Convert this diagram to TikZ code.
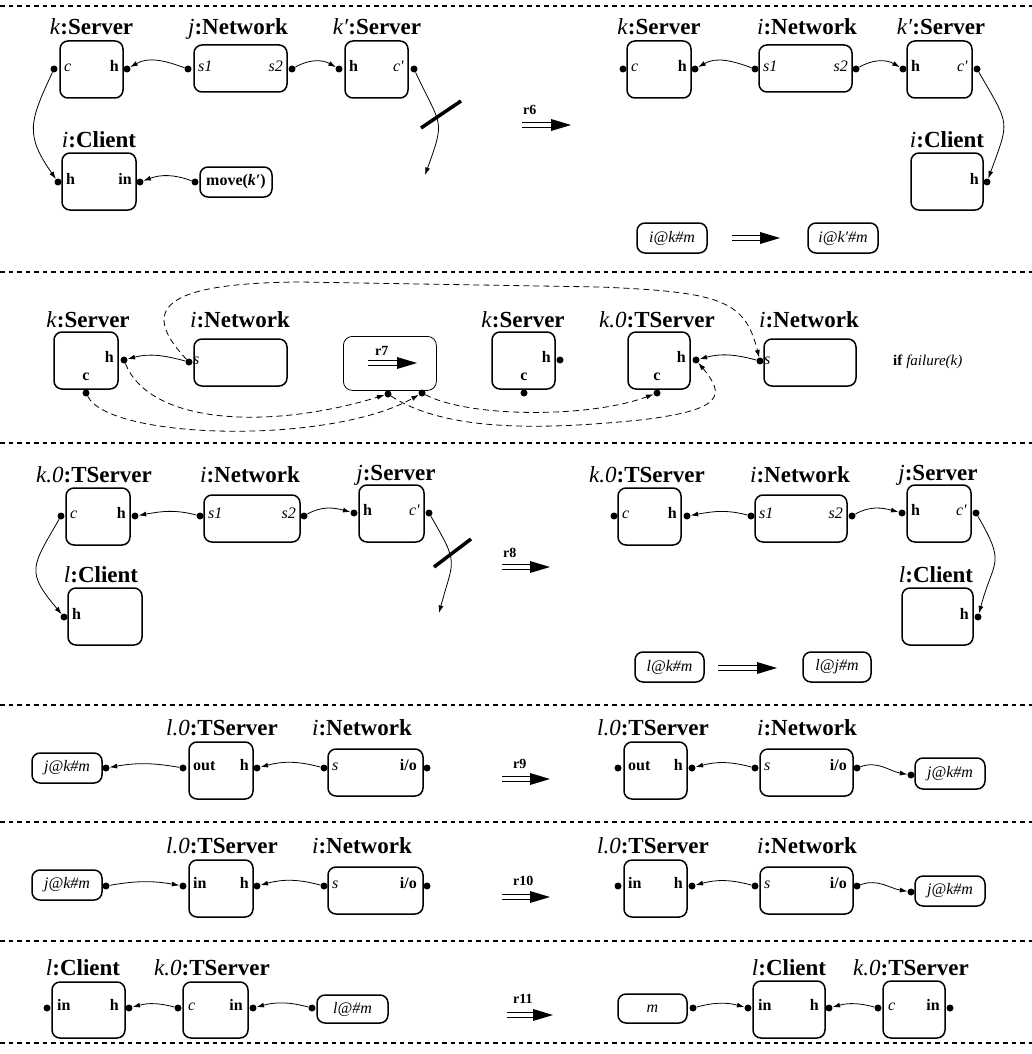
\documentclass[tikz,border=0pt]{standalone}
\usepackage{fontspec}
\setmainfont{Liberation Serif}
\usetikzlibrary{arrows.meta}
\tikzset{
 cbox/.style={draw, line width=1.5pt, rounded corners=8pt, inner sep=0pt, outer sep=0pt, font=\fontsize{16}{18}\selectfont},
 pdot/.style={circle, fill=black, draw=none, inner sep=0pt, minimum size=7pt},
 plab/.style={inner sep=0pt, font=\fontsize{16}{18}\selectfont},
 ttl/.style={inner sep=0pt, anchor=base, font=\fontsize{23}{25}\selectfont},
 conn/.style={line width=0.8pt, -{Latex[length=7.5pt,width=5pt]}},
 dconn/.style={conn, dash pattern=on 6pt off 4pt},
 sepline/.style={line width=1.2pt, dash pattern=on 4.5pt off 4pt},
 slash/.style={line width=3.5pt},
 rlab/.style={inner sep=0pt, anchor=base west, font=\bfseries\fontsize{14}{16}\selectfont},
}
\newcommand\bx[6]{\node[cbox, anchor=north west, minimum width={(#4-#2)*1pt}, minimum height={(#5-#3)*1pt}] (#1) at (#2,#3) {#6};}
\newcommand\rarr[3]{%
 \draw[line width=1.2pt] (#1,#2-2.4) -- (#1+#3-17,#2-2.4) (#1,#2+2.4) -- (#1+#3-17,#2+2.4);
 \fill (#1+#3-20,#2-6) -- (#1+#3,#2) -- (#1+#3-20,#2+6) -- cycle;}
\begin{document}
\begin{tikzpicture}[x=1pt,y=-1pt]
\fill[white] (0,0) rectangle (1032,1054);
\useasboundingbox (0,0) rectangle (1032,1054);
% separators
\foreach \yy in {6,272,443,705,822,941,1043} \draw[sepline] (0,\yy) -- (1032,\yy);

% ================= ROW 1 LEFT
\bx{a1}{60}{41}{123}{98}{}
\bx{a2}{194}{45}{287}{92}{}
\bx{a3}{345}{41}{408}{98}{}
\bx{a4}{62}{153}{136}{210}{}
\bx{a5}{200}{167}{272}{197}{\bfseries move(\textit{k′})}
\node[ttl] (ta1) at (91.5,35) {\textit{k}\textbf{:Server}};
\node[ttl] (ta2) at (238,35) {\textit{j}\textbf{:Network}};
\node[ttl] (ta3) at (377,35) {\textit{k′}\textbf{:Server}};
\node[ttl] (ta4) at (99,147) {\textit{i}\textbf{:Client}};
\node[pdot] (a1c) at (54,69) {};
\node[pdot] (a1h) at (127,69) {};
\node[pdot] (a2s1) at (188,69) {};
\node[pdot] (a2s2) at (292,69) {};
\node[pdot] (a3h) at (339,69) {};
\node[pdot] (a3c) at (414,69) {};
\node[pdot] (a4h) at (58,182) {};
\node[pdot] (a4in) at (140,182) {};
\node[pdot] (a5d) at (195,182) {};
\node[plab,anchor=mid west] (la1c) at (64,69) {\textit{c}};
\node[plab,anchor=mid east] (la1h) at (119,69) {\textbf{h}};
\node[plab,anchor=mid west] (la2s1) at (198,69) {\textit{s1}};
\node[plab,anchor=mid east] (la2s2) at (283,69) {\textit{s2}};
\node[plab,anchor=mid west] (la3h) at (349,69) {\textbf{h}};
\node[plab,anchor=mid east] (la3c) at (404,69) {\textit{c′}};
\node[plab,anchor=mid west] (la4h) at (66,182) {\textbf{h}};
\node[plab,anchor=mid east] (la4in) at (132,182) {\textbf{in}};
\draw[conn] (a2s1) to[out=160,in=30] (a1h);
\draw[conn] (a2s2) to[out=30,in=150] (a3h);
\draw[conn] (a1c) to[out=245,in=125,looseness=1.3] (a4h);
\coordinate (a3end) at (425,175);
\draw[conn] (a3c) to[out=-65,in=70,looseness=1.5] (a3end);
\draw[slash] (421,128) -- (461,101);
\draw[conn] (a5d) to[out=160,in=20] (a4in);
\node[rlab] (r6) at (523,115) {r6};
\rarr{522}{125}{49}

% ================= ROW 1 RIGHT
\bx{b1}{627}{41}{691}{98}{}
\bx{b2}{759}{45}{852}{92}{}
\bx{b3}{907}{41}{972}{98}{}
\bx{b4}{911}{153}{983}{210}{}
\bx{b5}{637}{223}{707}{253}{\itshape i@k\#m}
\bx{b6}{808}{223}{878}{253}{\itshape i@k′\#m}
\node[ttl] (tb1) at (659,35) {\textit{k}\textbf{:Server}};
\node[ttl] (tb2) at (807,35) {\textit{i}\textbf{:Network}};
\node[ttl] (tb3) at (941,35) {\textit{k′}\textbf{:Server}};
\node[ttl] (tb4) at (947,147) {\textit{i}\textbf{:Client}};
\node[pdot] (b1c) at (623,69) {};
\node[pdot] (b1h) at (695,69) {};
\node[pdot] (b2s1) at (755,69) {};
\node[pdot] (b2s2) at (856,69) {};
\node[pdot] (b3h) at (903,69) {};
\node[pdot] (b3c) at (977,69) {};
\node[pdot] (b4h) at (987,182) {};
\node[plab,anchor=mid west] (lb1c) at (631,69) {\textit{c}};
\node[plab,anchor=mid east] (lb1h) at (687,69) {\textbf{h}};
\node[plab,anchor=mid west] (lb2s1) at (763,69) {\textit{s1}};
\node[plab,anchor=mid east] (lb2s2) at (848,69) {\textit{s2}};
\node[plab,anchor=mid west] (lb3h) at (911,69) {\textbf{h}};
\node[plab,anchor=mid east] (lb3c) at (968,69) {\textit{c′}};
\node[plab,anchor=mid east] (lb4h) at (979,182) {\textbf{h}};
\draw[conn] (b2s1) to[out=160,in=30] (b1h);
\draw[conn] (b2s2) to[out=30,in=150] (b3h);
\draw[conn] (b3c) to[out=-60,in=70,looseness=1.5] (b4h);
\rarr{732}{238}{48}

% ================= ROW 2
\bx{c1}{54}{332}{118}{389}{}
\bx{c2}{194}{339}{287}{386}{}
\node[draw, line width=0.8pt, rounded corners=9pt, anchor=north west, minimum width=93pt, minimum height=54pt] (r7box) at (343,336) {};
\bx{c3}{492}{332}{555}{389}{}
\bx{c4}{628}{332}{690}{389}{}
\bx{c5}{764}{339}{856}{386}{}
\node[ttl] (tc1) at (88,327) {\textit{k}\textbf{:Server}};
\node[ttl] (tc2) at (240,327) {\textit{i}\textbf{:Network}};
\node[ttl] (tc3) at (523,327) {\textit{k}\textbf{:Server}};
\node[ttl] (tc4) at (657,327) {\textit{k.0}\textbf{:TServer}};
\node[ttl] (tc5) at (809,327) {\textit{i}\textbf{:Network}};
\node[pdot] (c1h) at (124,360) {};
\node[pdot] (c1c) at (86,393) {};
\node[pdot] (c2s) at (189,362) {};
\node[pdot] (r7a) at (388,394) {};
\node[pdot] (r7b) at (422,393) {};
\node[pdot] (c3h) at (560,360) {};
\node[pdot] (c3c) at (524,393) {};
\node[pdot] (c4h) at (696,360) {};
\node[pdot] (c4c) at (657,393) {};
\node[pdot] (c5s) at (760,361) {};
\node[plab,anchor=mid east] (lc1h) at (114,360) {\textbf{h}};
\node[plab,anchor=mid] (lc1c) at (86,378) {\textbf{c}};
\node[plab,anchor=mid west] (lc2s) at (193,362) {\textit{s}};
\node[plab,anchor=mid east] (lc3h) at (551,360) {\textbf{h}};
\node[plab,anchor=mid] (lc3c) at (524,378) {\textbf{c}};
\node[plab,anchor=mid east] (lc4h) at (686,360) {\textbf{h}};
\node[plab,anchor=mid] (lc4c) at (657,378) {\textbf{c}};
\node[plab,anchor=mid west] (lc5s) at (764,362) {\textit{s}};
\node[rlab] (r7) at (375,355) {r7};
\rarr{368}{363}{49}
\node[plab,anchor=mid west,font=\fontsize{15}{17}\selectfont] (cond) at (893,363) {\textbf{if} \textit{failure(k)}};
\draw[conn] (c2s) to[out=165,in=15] (c1h);
\draw[conn] (c5s) to[out=165,in=15] (c4h);
\coordinate (t1) at (300,282);
\coordinate (t2) at (600,287);
\draw[dconn] (c2s) .. controls (140,310) and (160,283) .. (t1) -- (t2) .. controls (720,292) and (745,300) .. (c5s);
\draw[dconn] (c1h) .. controls (150,425) and (270,430) .. (r7a);
\draw[dconn] (c1c) .. controls (110,440) and (330,445) .. (r7b);
\coordinate (t3) at (640,420);
\draw[dconn] (r7a) .. controls (450,435) and (560,428) .. (t3) .. controls (725,410) and (725,395) .. (c4h);
\draw[dconn] (r7b) .. controls (470,418) and (590,418) .. (c4c);

% ================= ROW 3 LEFT
\bx{d1}{66}{488}{130}{545}{}
\bx{d2}{204}{495}{300}{542}{}
\bx{d3}{359}{485}{424}{542}{}
\bx{d4}{68}{588}{142}{645}{}
\node[ttl] (td1) at (94,482) {\textit{k.0}\textbf{:TServer}};
\node[ttl] (td2) at (250,482) {\textit{i}\textbf{:Network}};
\node[ttl] (td3) at (396,480) {\textit{j}\textbf{:Server}};
\node[ttl] (td4) at (101,582) {\textit{l}\textbf{:Client}};
\node[pdot] (d1c) at (61,516) {};
\node[pdot] (d1h) at (135,516) {};
\node[pdot] (d2s1) at (200,516) {};
\node[pdot] (d2s2) at (304,516) {};
\node[pdot] (d3h) at (354,513) {};
\node[pdot] (d3c) at (429,513) {};
\node[pdot] (d4h) at (64,617) {};
\node[plab,anchor=mid west] (ld1c) at (70,516) {\textit{c}};
\node[plab,anchor=mid east] (ld1h) at (126,516) {\textbf{h}};
\node[plab,anchor=mid west] (ld2s1) at (208,516) {\textit{s1}};
\node[plab,anchor=mid east] (ld2s2) at (296,516) {\textit{s2}};
\node[plab,anchor=mid west] (ld3h) at (363,513) {\textbf{h}};
\node[plab,anchor=mid east] (ld3c) at (420,513) {\textit{c′}};
\node[plab,anchor=mid west] (ld4h) at (72,617) {\textbf{h}};
\draw[conn] (d2s1) to[out=165,in=10] (d1h);
\draw[conn] (d2s2) to[out=30,in=165] (d3h);
\draw[conn] (d1c) to[out=240,in=130,looseness=1.5] (d4h);
\coordinate (d3end) at (439,613);
\draw[conn] (d3c) to[out=-60,in=75,looseness=1.5] (d3end);
\draw[slash] (434,567) -- (471,539);
\node[rlab] (r8) at (503,557) {r8};
\rarr{502}{567}{48}

% ================= ROW 3 RIGHT
\bx{e1}{618}{488}{681}{545}{}
\bx{e2}{755}{495}{847}{542}{}
\bx{e3}{907}{485}{971}{542}{}
\bx{e4}{902}{588}{973}{645}{}
\bx{e5}{635}{652}{704}{682}{\itshape l@k\#m}
\bx{e6}{803}{652}{871}{682}{\itshape l@j\#m}
\node[ttl] (te1) at (647,482) {\textit{k.0}\textbf{:TServer}};
\node[ttl] (te2) at (800,482) {\textit{i}\textbf{:Network}};
\node[ttl] (te3) at (938,480) {\textit{j}\textbf{:Server}};
\node[ttl] (te4) at (936,582) {\textit{l}\textbf{:Client}};
\node[pdot] (e1c) at (614,516) {};
\node[pdot] (e1h) at (687,516) {};
\node[pdot] (e2s1) at (751,516) {};
\node[pdot] (e2s2) at (852,516) {};
\node[pdot] (e3h) at (902,513) {};
\node[pdot] (e3c) at (976,513) {};
\node[pdot] (e4h) at (978,617) {};
\node[plab,anchor=mid west] (le1c) at (622,516) {\textit{c}};
\node[plab,anchor=mid east] (le1h) at (677,516) {\textbf{h}};
\node[plab,anchor=mid west] (le2s1) at (759,516) {\textit{s1}};
\node[plab,anchor=mid east] (le2s2) at (843,516) {\textit{s2}};
\node[plab,anchor=mid west] (le3h) at (911,513) {\textbf{h}};
\node[plab,anchor=mid east] (le3c) at (967,513) {\textit{c′}};
\node[plab,anchor=mid east] (le4h) at (969,617) {\textbf{h}};
\draw[conn] (e2s1) to[out=165,in=10] (e1h);
\draw[conn] (e2s2) to[out=30,in=165] (e3h);
\draw[conn] (e3c) to[out=-60,in=75,looseness=1.5] (e4h);
\rarr{718}{668}{59}

% ================= ROW 4 LEFT
\bx{f1}{32}{753}{102}{783}{\itshape j@k\#m}
\bx{f2}{189}{742}{253}{799}{}
\bx{f3}{328}{749}{423}{796}{}
\node[ttl] (tf2) at (222,735) {\textit{l.0}\textbf{:TServer}};
\node[ttl] (tf3) at (362,735) {\textit{i}\textbf{:Network}};
\node[pdot] (f1d) at (106,768) {};
\node[pdot] (f2out) at (183,768) {};
\node[pdot] (f2h) at (257,768) {};
\node[pdot] (f3s) at (324,768) {};
\node[pdot] (f3io) at (427,768) {};
\node[plab,anchor=mid west] (lf2out) at (193,768) {\textbf{out}};
\node[plab,anchor=mid east] (lf2h) at (249,768) {\textbf{h}};
\node[plab,anchor=mid west] (lf3s) at (332,768) {\textit{s}};
\node[plab,anchor=mid east] (lf3io) at (417,768) {\textbf{i/o}};
\draw[conn] (f2out) to[out=170,in=10] (f1d);
\draw[conn] (f3s) to[out=165,in=15] (f2h);
\node[rlab] (r9) at (513,768) {r9};
\rarr{502}{779}{48}

% ================= ROW 4 RIGHT
\bx{g2}{624}{742}{687}{799}{}
\bx{g3}{760}{749}{853}{796}{}
\bx{g4}{915}{758}{985}{789}{\itshape j@k\#m}
\node[ttl] (tg2) at (653,735) {\textit{l.0}\textbf{:TServer}};
\node[ttl] (tg3) at (807,735) {\textit{i}\textbf{:Network}};
\node[pdot] (g2out) at (618,768) {};
\node[pdot] (g2h) at (692,768) {};
\node[pdot] (g3s) at (755,768) {};
\node[pdot] (g3io) at (857,768) {};
\node[pdot] (g4d) at (911,775) {};
\node[plab,anchor=mid west] (lg2out) at (628,768) {\textbf{out}};
\node[plab,anchor=mid east] (lg2h) at (683,768) {\textbf{h}};
\node[plab,anchor=mid west] (lg3s) at (764,768) {\textit{s}};
\node[plab,anchor=mid east] (lg3io) at (847,768) {\textbf{i/o}};
\draw[conn] (g3s) to[out=165,in=15] (g2h);
\draw[conn] (g3io) to[out=20,in=170] (g4d);

% ================= ROW 5 LEFT
\bx{h1}{32}{870}{102}{900}{\itshape j@k\#m}
\bx{h2}{189}{860}{253}{917}{}
\bx{h3}{328}{867}{423}{914}{}
\node[ttl] (th2) at (222,853) {\textit{l.0}\textbf{:TServer}};
\node[ttl] (th3) at (362,853) {\textit{i}\textbf{:Network}};
\node[pdot] (h1d) at (106,886) {};
\node[pdot] (h2in) at (183,886) {};
\node[pdot] (h2h) at (257,886) {};
\node[pdot] (h3s) at (324,886) {};
\node[pdot] (h3io) at (427,886) {};
\node[plab,anchor=mid west] (lh2in) at (193,886) {\textbf{in}};
\node[plab,anchor=mid east] (lh2h) at (249,886) {\textbf{h}};
\node[plab,anchor=mid west] (lh3s) at (332,886) {\textit{s}};
\node[plab,anchor=mid east] (lh3io) at (417,886) {\textbf{i/o}};
\draw[conn] (h1d) to[out=10,in=170] (h2in);
\draw[conn] (h3s) to[out=165,in=15] (h2h);
\node[rlab] (r10) at (513,885) {r10};
\rarr{502}{897}{48}

% ================= ROW 5 RIGHT
\bx{i2}{624}{860}{687}{917}{}
\bx{i3}{760}{867}{853}{914}{}
\bx{i4}{915}{876}{985}{906}{\itshape j@k\#m}
\node[ttl] (ti2) at (653,853) {\textit{l.0}\textbf{:TServer}};
\node[ttl] (ti3) at (807,853) {\textit{i}\textbf{:Network}};
\node[pdot] (i2in) at (618,886) {};
\node[pdot] (i2h) at (692,886) {};
\node[pdot] (i3s) at (755,886) {};
\node[pdot] (i3io) at (857,886) {};
\node[pdot] (i4d) at (911,892) {};
\node[plab,anchor=mid west] (li2in) at (628,886) {\textbf{in}};
\node[plab,anchor=mid east] (li2h) at (683,886) {\textbf{h}};
\node[plab,anchor=mid west] (li3s) at (764,886) {\textit{s}};
\node[plab,anchor=mid east] (li3io) at (847,886) {\textbf{i/o}};
\draw[conn] (i3s) to[out=165,in=15] (i2h);
\draw[conn] (i3io) to[out=20,in=170] (i4d);

% ================= ROW 6 LEFT
\bx{j1}{52}{982}{125}{1038}{}
\bx{j2}{183}{982}{248}{1038}{}
\bx{j3}{317}{995}{388}{1023}{\itshape l@\#m}
\node[ttl] (tj1) at (83,975) {\textit{l}\textbf{:Client}};
\node[ttl] (tj2) at (212,975) {\textit{k.0}\textbf{:TServer}};
\node[pdot] (j1in) at (47,1008) {};
\node[pdot] (j1h) at (129,1008) {};
\node[pdot] (j2c) at (178,1008) {};
\node[pdot] (j2in) at (253,1008) {};
\node[pdot] (j3d) at (312,1008) {};
\node[plab,anchor=mid west] (lj1in) at (57,1008) {\textbf{in}};
\node[plab,anchor=mid east] (lj1h) at (119,1008) {\textbf{h}};
\node[plab,anchor=mid west] (lj2c) at (188,1008) {\textit{c}};
\node[plab,anchor=mid east] (lj2in) at (243,1008) {\textbf{in}};
\draw[conn] (j3d) to[out=165,in=15] (j2in);
\draw[conn] (j2c) to[out=165,in=15] (j1h);
\node[rlab] (r11) at (513,1003) {r11};
\rarr{507}{1015}{46}

% ================= ROW 6 RIGHT
\bx{k1}{618}{994}{687}{1023}{\itshape m}
\bx{k2}{753}{981}{825}{1038}{}
\bx{k3}{883}{981}{945}{1038}{}
\node[ttl] (tk2) at (789,975) {\textit{l}\textbf{:Client}};
\node[ttl] (tk3) at (911,975) {\textit{k.0}\textbf{:TServer}};
\node[pdot] (k1d) at (693,1008) {};
\node[pdot] (k2in) at (748,1008) {};
\node[pdot] (k2h) at (829,1008) {};
\node[pdot] (k3c) at (878,1008) {};
\node[pdot] (k3in) at (950,1008) {};
\node[plab,anchor=mid west] (lk2in) at (758,1008) {\textbf{in}};
\node[plab,anchor=mid east] (lk2h) at (819,1008) {\textbf{h}};
\node[plab,anchor=mid west] (lk3c) at (888,1008) {\textit{c}};
\node[plab,anchor=mid east] (lk3in) at (940,1008) {\textbf{in}};
\draw[conn] (k1d) to[out=15,in=165] (k2in);
\draw[conn] (k3c) to[out=165,in=15] (k2h);
\end{tikzpicture}
\end{document}
